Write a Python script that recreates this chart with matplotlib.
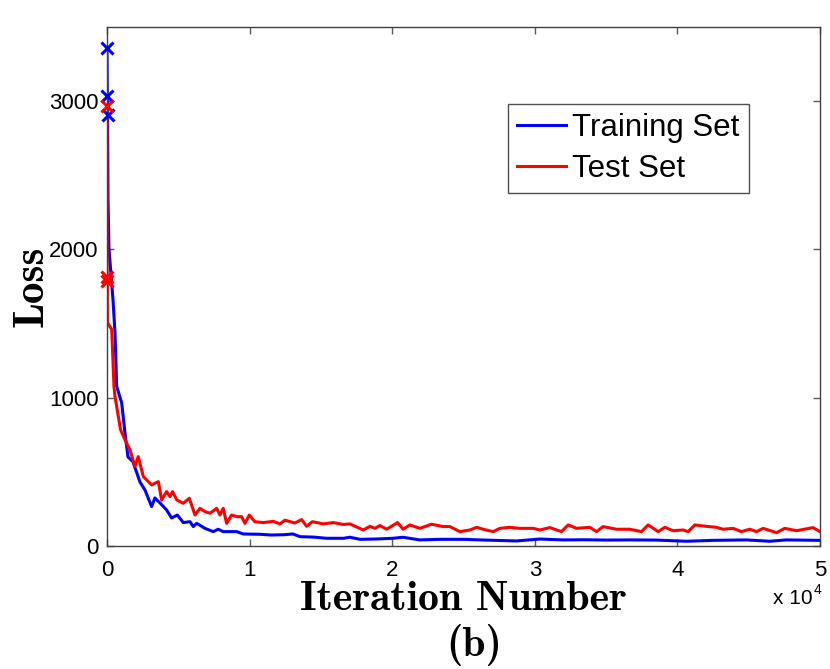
import os
import matplotlib
matplotlib.use("Agg")
import matplotlib.pyplot as plt
from matplotlib.font_manager import FontProperties

plt.rcParams['font.family'] = ['Liberation Sans', 'DejaVu Sans']

cm_bold_path = os.path.join(matplotlib.get_data_path(), 'fonts', 'ttf', 'cmb10.ttf')

def cm_bold(size):
    if os.path.exists(cm_bold_path):
        return FontProperties(fname=cm_bold_path, size=size)
    return FontProperties(family='DejaVu Serif', weight='bold', size=size)

# ---- data ----
train_iter = [0, 20, 40, 70, 140, 420, 560, 680, 1030, 1260, 1470, 1820, 2310, 2660,
              3130, 3360, 3720, 4180, 4530, 4930, 5350, 5820, 6050, 6290, 6870, 7450,
              7800, 8150, 9090, 9560, 10730, 11500, 12400, 13040, 13530, 14500, 15400,
              16600, 17030, 17740, 18800, 20070, 20750, 21940, 23340, 24960, 26500,
              28720, 30350, 31970, 33500, 35000, 36660, 38500, 40640, 42500, 44840,
              46480, 47650, 50000]
train_loss = [3358, 3034, 2905, 2338, 2000, 1662, 1439, 1076, 965, 764, 601, 568, 432, 378,
              266, 324, 290, 243, 189, 209, 158, 164, 131, 153, 119, 97,
              113, 97, 97, 81, 79, 74, 76, 81, 63, 60, 52,
              52, 59, 45, 47, 52, 59, 41, 45, 45, 40,
              34, 47, 41, 42, 40, 41, 40, 32, 38, 41,
              32, 41, 38]

test_iter = [0, 10, 20, 30, 330, 490, 560, 950, 1260, 1610, 1960, 2190, 2550, 3130, 3600,
             3830, 4180, 4420, 4600, 4890, 5350, 5770, 6170, 6520, 6870, 7220, 7690, 7920,
             8150, 8390, 8740, 9090, 9440, 9670, 9980, 10370, 10960, 11660, 12130, 12480,
             13180, 13650, 14000, 14400, 15170, 15870, 16570, 17030, 17970, 18440, 18790,
             19140, 19610, 20380, 20770, 21240, 21940, 22760, 23570, 24040, 24750, 25450,
             25920, 26380, 27080, 27550, 28250, 28950, 29890, 30350, 31060, 31870, 32340,
             32930, 33860, 34330, 34790, 35730, 36660, 37480, 37950, 38650, 39120, 39700,
             40400, 40750, 41220, 41800, 42740, 43200, 43910, 44490, 45070, 45550, 46010,
             46950, 47530, 48350, 49510, 50000]
test_loss = [2970, 1815, 1785, 1507, 1460, 1074, 1009, 784, 716, 649, 536, 603, 468, 412, 434,
             311, 367, 333, 367, 311, 288, 322, 209, 254, 232, 221, 254, 209,
             254, 153, 209, 198, 198, 153, 209, 164, 158, 166, 149, 174,
             155, 178, 133, 164, 149, 158, 145, 149, 108, 133, 119,
             138, 113, 158, 113, 142, 119, 147, 131, 131, 97, 108,
             126, 113, 97, 119, 126, 119, 119, 108, 124, 97, 142,
             119, 126, 97, 131, 113, 113, 97, 142, 97, 126, 103,
             108, 97, 142, 135, 126, 113, 119, 97, 113, 97, 119,
             90, 119, 103, 124, 97]

n_marked = 3
series_labels = ['Training Set', 'Test Set']
x_ticks = [0, 10000, 20000, 30000, 40000, 50000]
x_tick_labels = ['0', '1', '2', '3', '4', '5']
y_ticks = [0, 1000, 2000, 3000]

# ---- figure ----
fig = plt.figure(figsize=(8.3, 6.69), dpi=100)
ax = fig.add_axes([107/830, 123/669, 713/830, 519/669])

ax.plot(train_iter, train_loss, color='#0000ff', lw=2.2, label=series_labels[0])
ax.plot(test_iter, test_loss, color='#ff0000', lw=2.2, label=series_labels[1])
ax.plot(train_iter[:n_marked], train_loss[:n_marked], ls='none', marker='x',
        color='#0000ff', ms=8, mew=2.2, clip_on=False, zorder=5)
ax.plot(test_iter[:n_marked], test_loss[:n_marked], ls='none', marker='x',
        color='#ff0000', ms=8, mew=2.2, clip_on=False, zorder=5)

ax.set_xlim(0, 50000)
ax.set_ylim(0, 3500)
ax.set_xticks(x_ticks)
ax.set_xticklabels(x_tick_labels)
ax.set_yticks(y_ticks)
ax.tick_params(direction='in', length=5, width=1, top=True, right=True,
               labelsize=16, color='0.35')
ax.tick_params(axis='x', pad=10)
ax.tick_params(axis='y', pad=6)
for s in ax.spines.values():
    s.set_color('0.25')
    s.set_linewidth(1)

ax.set_xlabel('Iteration Number', fontproperties=cm_bold(30), labelpad=0)
ax.set_ylabel('Loss', fontproperties=cm_bold(31), labelpad=-2)

ax.text(813/830, 1 - 598/669, 'x 10', transform=fig.transFigure, ha='right', va='center',
        fontsize=15)
ax.text(814/830, 1 - 590/669, '4', transform=fig.transFigure, ha='left', va='center',
        fontsize=10)
fig.text(474/830, 1 - 645/669, '(b)', ha='center', va='center',
         fontproperties=cm_bold(30))

leg = ax.legend(loc='upper left', bbox_to_anchor=(0.5624, 0.8516), fontsize=22.5,
                handlelength=1.55, handletextpad=0.2, labelspacing=0.33,
                borderpad=0.3, borderaxespad=0, fancybox=False, framealpha=1,
                edgecolor='0.3')
leg.get_frame().set_linewidth(1)

fig.savefig('out.png', dpi=100)
